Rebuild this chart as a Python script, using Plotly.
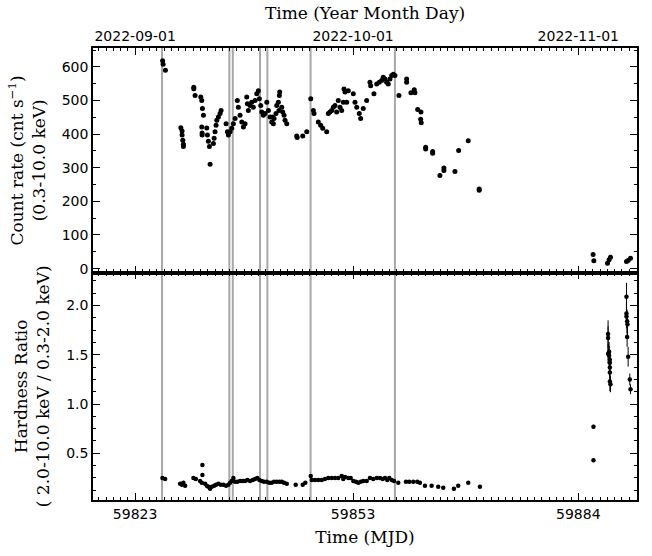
import plotly.graph_objects as go

# ---- Data ----
rate_mjd = [59826.78, 59826.85, 59827.17,
            59829.29, 59829.46, 59829.46, 59829.56, 59829.64, 59829.64,
            59831.07, 59831.07, 59831.25, 59832.04, 59832.17, 59832.26, 59832.40,
            59832.17, 59832.22, 59832.22,
            59832.86, 59832.95, 59833.08, 59833.22, 59833.32,
            59833.77, 59833.87, 59834.00, 59834.14, 59834.24, 59834.46, 59834.69, 59834.83,
            59835.52, 59835.70, 59835.83, 59836.07, 59836.30, 59836.52, 59836.76,
            59837.07, 59837.21, 59837.44, 59837.68, 59837.90, 59838.13, 59838.36, 59838.45,
            59838.58, 59838.82, 59839.05, 59839.27, 59839.51, 59839.74, 59839.96, 59840.10,
            59840.29, 59840.43, 59840.65, 59840.88, 59841.12, 59841.34, 59841.57, 59841.80,
            59841.94, 59842.02, 59842.12, 59842.39, 59842.49, 59842.71, 59842.85, 59842.90,
            59843.18, 59843.32, 59843.50, 59843.63, 59843.87, 59842.80,
            59845.24, 59845.30, 59846.07, 59846.62,
            59847.17, 59847.53, 59847.62,
            59848.21, 59848.54, 59848.82, 59849.37,
            59849.59, 59849.82, 59850.06, 59850.28, 59850.51, 59850.74, 59850.96, 59851.20,
            59851.43, 59851.65, 59851.75, 59851.89, 59852.12, 59852.34,
            59853.03, 59853.26, 59853.50, 59853.85, 59854.04, 59854.40, 59854.87,
            59855.32, 59855.42, 59855.87, 59856.25, 59856.60, 59856.93, 59857.15, 59857.39,
            59857.62, 59857.84, 59858.08, 59858.31, 59858.53, 59858.76,
            59859.31, 59860.37, 59860.37, 59860.96, 59861.42, 59861.51,
            59861.89, 59862.34, 59862.30, 59862.38,
            59862.99, 59862.99, 59863.95, 59863.95,
            59865.50, 59865.50, 59864.95, 59867.02, 59867.53, 59868.85,
            59870.36, 59870.36,
            59886.04, 59886.14, 59888.02, 59888.24, 59888.43,
            59890.63, 59890.86, 59891.19]
rate_val = [618, 608, 590,
            419, 409, 397, 382, 370, 363,
            539, 535, 515, 510, 500, 476, 456,
            421, 403, 397,
            418, 397, 379, 363, 310,
            372, 388, 407, 426, 441, 451, 461, 470,
            431, 407, 397, 407, 417, 431, 446,
            500, 480, 456, 436, 421, 431, 510, 490,
            470, 485, 495, 480, 500, 520, 529, 505,
            485, 466, 456, 461, 495, 470, 451, 436,
            451, 431, 446, 461, 485, 495, 515, 525,
            480, 466, 456, 441, 431, 470,
            394, 390, 394, 407,
            505, 470, 461,
            436, 426, 417, 407,
            461, 466, 470, 480, 485, 466, 500, 480,
            470, 495, 534, 525, 495, 529,
            520, 495, 480, 461, 446, 476, 500,
            554, 544, 520, 549, 554, 559, 569, 564,
            554, 549, 564, 574, 578, 574,
            515, 564, 554, 523, 532, 523,
            473, 466, 444, 434,
            361, 356, 348, 343,
            299, 292, 277, 289, 351, 380,
            237, 233,
            42, 23, 16, 26, 34,
            21, 24, 31]
rate_err = [5] * len(rate_val)

hr_mjd = [59826.76, 59827.13,
          59829.19, 59829.42, 59829.64, 59829.88,
          59831.02, 59831.35, 59831.94, 59832.17, 59832.26, 59832.26,
          59832.63, 59832.86, 59833.08, 59833.32, 59833.55, 59833.87, 59834.14, 59834.46,
          59834.79, 59835.15, 59835.52, 59835.83, 59836.07, 59836.30, 59836.52, 59836.76,
          59837.07, 59837.44, 59837.81, 59838.13, 59838.45, 59838.82, 59839.19, 59839.51,
          59839.82, 59840.10, 59840.43, 59840.74, 59841.12, 59841.47, 59841.80, 59842.12,
          59842.49, 59842.85, 59843.18, 59843.50, 59843.87,
          59845.10, 59846.07, 59846.43,
          59847.17, 59847.31, 59847.76, 59848.21, 59848.68, 59849.13, 59849.59, 59850.06,
          59850.51, 59850.96, 59851.43, 59851.65, 59851.89, 59852.34, 59852.67, 59853.03,
          59853.40, 59853.72, 59854.04, 59854.40, 59854.87, 59855.32, 59855.78, 59856.25,
          59856.70, 59857.07, 59857.39, 59857.70, 59857.98, 59858.31, 59858.63,
          59859.22, 59860.28, 59860.73, 59861.28, 59861.83, 59862.20,
          59862.89, 59863.81, 59864.72, 59865.41, 59866.88, 59867.47, 59868.85, 59870.46,
          59886.09, 59886.09,
          59888.10, 59888.10, 59888.10, 59888.24, 59888.34, 59888.24, 59888.34, 59888.34,
          59888.34, 59888.34, 59888.43,
          59890.63, 59890.63, 59890.63, 59890.72, 59890.77, 59890.72, 59890.86, 59891.09,
          59891.19]
hr_val = [0.25, 0.24,
          0.19, 0.18, 0.20, 0.17,
          0.25, 0.24, 0.22, 0.20, 0.38, 0.28,
          0.19, 0.17, 0.16, 0.14, 0.16, 0.17, 0.18, 0.19,
          0.18, 0.18, 0.17, 0.18, 0.20, 0.22, 0.25, 0.21,
          0.21, 0.22, 0.22, 0.22, 0.23, 0.22, 0.23, 0.24,
          0.25, 0.23, 0.22, 0.21, 0.21, 0.20, 0.20, 0.21,
          0.21, 0.21, 0.21, 0.20, 0.19,
          0.18, 0.18, 0.20,
          0.27, 0.23, 0.23, 0.23, 0.23, 0.24, 0.25, 0.25,
          0.25, 0.25, 0.27, 0.24, 0.26, 0.25, 0.25, 0.22,
          0.21, 0.20, 0.21, 0.22, 0.22, 0.25, 0.24, 0.25,
          0.25, 0.24, 0.25, 0.23, 0.25, 0.23, 0.22,
          0.20, 0.21, 0.21, 0.21, 0.21, 0.20,
          0.17, 0.17, 0.16, 0.15, 0.14, 0.17, 0.20, 0.16,
          0.77, 0.43,
          1.71, 1.67, 1.51, 1.49, 1.45, 1.53, 1.42, 1.37,
          1.32, 1.23, 1.20,
          2.09, 1.92, 1.89, 1.84, 1.81, 1.68, 1.48, 1.25,
          1.15]
hr_err = ([0.01] * 97 + [0.02, 0.02] +
          [0.14, 0.12, 0.10, 0.10, 0.10, 0.10, 0.10, 0.10, 0.10, 0.10, 0.08] +
          [0.14, 0.12, 0.12, 0.12, 0.12, 0.10, 0.10, 0.06, 0.05])

vline_mjd = [59826.70, 59835.97, 59836.44, 59840.19, 59841.20, 59847.15, 59858.76]

mjd_ticks = [59823, 59853, 59884]
mjd_labels = ["59823", "59853", "59884"]
date_labels = ["2022-09-01", "2022-10-01", "2022-11-01"]

rate_ticks = [0, 100, 200, 300, 400, 500, 600]
hr_ticks = [0.5, 1.0, 1.5, 2.0]

XRANGE = [59817.2, 59892.08]

fig = go.Figure()

fig.add_trace(go.Scatter(
    x=rate_mjd, y=rate_val, mode="markers",
    marker=dict(color="black", size=5),
    error_y=dict(type="data", array=rate_err, color="black", thickness=1, width=0),
    xaxis="x", yaxis="y", showlegend=False))

fig.add_trace(go.Scatter(
    x=hr_mjd, y=hr_val, mode="markers",
    marker=dict(color="black", size=4.5),
    error_y=dict(type="data", array=hr_err, color="black", thickness=1, width=0),
    xaxis="x2", yaxis="y2", showlegend=False))

# invisible trace so that the top (date) axis is drawn
fig.add_trace(go.Scatter(
    x=mjd_ticks, y=[None] * len(mjd_ticks), mode="markers",
    marker=dict(opacity=0), xaxis="x3", yaxis="y", showlegend=False,
    hoverinfo="skip"))

for v in vline_mjd:
    fig.add_shape(type="line", xref="x", yref="paper", x0=v, x1=v, y0=0, y1=1,
                  line=dict(color="#a8a8a8", width=2), layer="below")

tickfont = dict(family="DejaVu Sans", size=14, color="black")
titlefont = dict(family="DejaVu Serif", size=17, color="black")
axis_common = dict(showgrid=False, zeroline=False, showline=True, linecolor="black",
                   linewidth=1.5, ticks="inside", tickcolor="black", tickwidth=1.2,
                   ticklen=7, tickfont=tickfont)
minor_x = dict(dtick=1, tick0=59823, ticks="inside", ticklen=3.5,
               tickcolor="black", tickwidth=1)

fig.update_layout(
    width=652, height=556,
    margin=dict(l=93, r=15, t=48, b=54),
    paper_bgcolor="white", plot_bgcolor="white",
    xaxis=dict(**axis_common, domain=[0, 1], range=XRANGE, anchor="y",
               tickvals=mjd_ticks, showticklabels=False, mirror=False,
               minor=minor_x),
    xaxis3=dict(**axis_common, range=XRANGE, anchor="y", overlaying="x", side="top",
                tickvals=mjd_ticks, ticktext=date_labels,
                title=dict(text="Time (Year Month Day)", font=titlefont, standoff=4),
                minor=minor_x),
    yaxis=dict(**axis_common, domain=[0.503, 1], range=[-12, 656], anchor="x",
               tickvals=rate_ticks, mirror="ticks",
               minor=dict(dtick=50, tick0=0, ticks="inside", ticklen=3.5,
                          tickcolor="black", tickwidth=1),
               title=dict(text="Count rate (cnt s<sup>−1</sup>)<br>(0.3-10.0 keV)",
                          font=titlefont, standoff=12)),
    xaxis2=dict(**axis_common, domain=[0, 1], range=XRANGE, anchor="y2",
                tickvals=mjd_ticks, ticktext=mjd_labels, mirror="ticks",
                title=dict(text="Time (MJD)", font=titlefont, standoff=11),
                minor=minor_x),
    yaxis2=dict(**axis_common, domain=[0, 0.503], range=[0.026, 2.334], anchor="x2",
                tickvals=hr_ticks, ticktext=["0.5", "1.0", "1.5", "2.0"], mirror="ticks",
                minor=dict(dtick=0.125, tick0=0, ticks="inside", ticklen=3.5,
                           tickcolor="black", tickwidth=1),
                title=dict(text="Hardness Ratio<br>( 2.0-10.0 keV / 0.3-2.0 keV)",
                           font=titlefont, standoff=12)),
)

fig.write_html("out.html")
